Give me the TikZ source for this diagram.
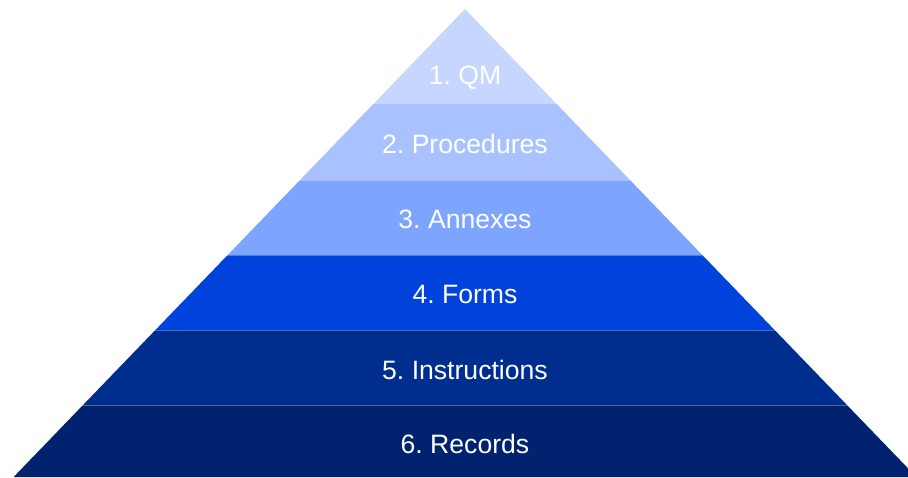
\documentclass[tikz,border=0pt]{standalone}
\usepackage{fontspec}
\setmainfont{Liberation Sans}
\frenchspacing
\definecolor{bandA}{HTML}{C6D6FF}
\definecolor{bandB}{HTML}{A9C2FF}
\definecolor{bandC}{HTML}{7DA4FF}
\definecolor{bandD}{HTML}{0043DC}
\definecolor{bandE}{HTML}{002E8F}
\definecolor{bandF}{HTML}{00226F}
\tikzset{
  lbl/.style={text=white, font=\fontsize{26.6}{30}\selectfont\frenchspacing, inner sep=0pt, anchor=center},
  sep/.style={draw=white, draw opacity=0.3, line width=0.8pt}
}
\begin{document}
\begin{tikzpicture}[x=1pt,y=-1pt]
\useasboundingbox (0,0) rectangle (908,477);
\begin{scope}
\clip (465,9) -- (916.4,477) -- (13.6,477) -- cycle;
\fill[bandA] (0,0) rectangle (908,104);
\fill[bandB] (0,104) rectangle (908,180);
\fill[bandC] (0,180) rectangle (908,255);
\fill[bandD] (0,255) rectangle (908,330);
\fill[bandE] (0,330) rectangle (908,405);
\fill[bandF] (0,405) rectangle (908,480);
\draw[sep] (0,180) -- (908,180);
\draw[sep] (0,255) -- (908,255);
\draw[sep] (0,330) -- (908,330);
\draw[sep] (0,405) -- (908,405);
\end{scope}
\node[lbl] (l1) at (465,77.5) {1. QM};
\node[lbl] (l2) at (465,143.5) {2. Procedures};
\node[lbl] (l3) at (465,219) {3. Annexes};
\node[lbl] (l4) at (465,294.5) {4. Forms};
\node[lbl] (l5) at (465,369.5) {5. Instructions};
\node[lbl] (l6) at (465,444) {6. Records};
\end{tikzpicture}
\end{document}
